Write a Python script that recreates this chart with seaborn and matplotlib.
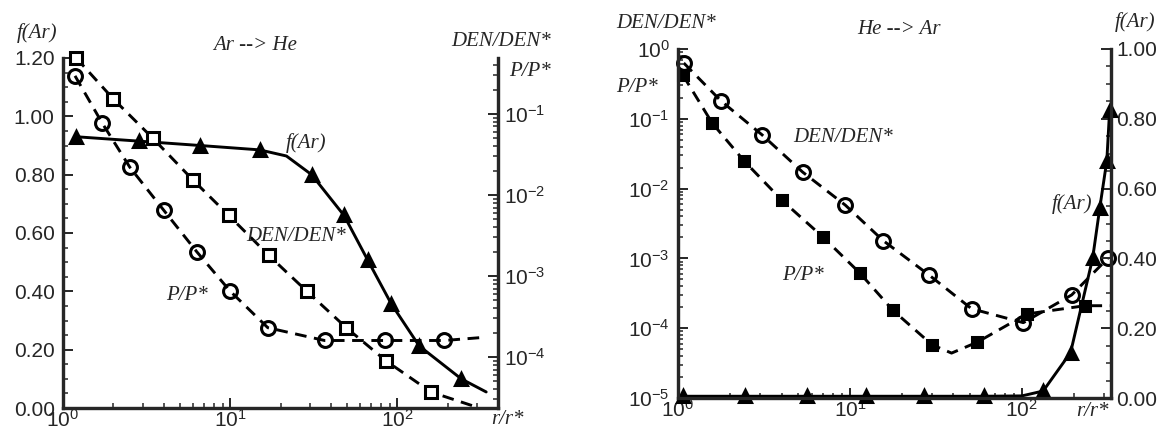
import matplotlib
matplotlib.use('Agg')
import matplotlib.pyplot as plt
import matplotlib.ticker as mticker
import seaborn as sns

# ---- left panel: Ar --> He ----
ah_far_x = [1.2, 2.84, 6.6, 15, 21.7, 30.7, 48, 66.5, 92, 135, 241, 340]
ah_far_y = [0.93, 0.915, 0.90, 0.885, 0.864, 0.80, 0.66, 0.507, 0.357, 0.213, 0.10, 0.055]
ah_den_x = [1.2, 2.0, 3.45, 5.97, 9.8, 17, 28.7, 49.5, 86, 159, 300]
ah_den_y = [0.49, 0.153, 0.05, 0.0154, 0.0056, 0.0018, 6.5e-4, 2.3e-4, 8.9e-5, 3.7e-5, 2.4e-5]
ah_p_x = [1.18, 1.71, 2.51, 4.0, 6.3, 10, 16.8, 36.7, 84, 191, 330]
ah_p_y = [0.295, 0.078, 0.022, 0.0065, 0.002, 6.5e-4, 2.3e-4, 1.6e-4, 1.6e-4, 1.6e-4, 1.75e-4]

# ---- right panel: He --> Ar ----
ha_den_x = [1.08, 1.78, 3.08, 5.3, 9.4, 15.6, 28.8, 51, 102, 195, 316]
ha_den_y = [0.63, 0.18, 0.059, 0.0173, 0.0058, 0.0018, 5.8e-4, 1.9e-4, 1.2e-4, 3.0e-4, 1.0e-3]
ha_p_x = [1.07, 1.58, 2.42, 4.0, 7.0, 11.4, 17.8, 30, 39, 55, 107, 233, 325]
ha_p_y = [0.42, 0.087, 0.025, 0.0069, 0.002, 6.2e-4, 1.8e-4, 5.8e-5, 4.4e-5, 6.3e-5, 1.6e-4, 2.1e-4, 2.1e-4]
ha_far_x = [1.07, 2.45, 5.6, 12.4, 27, 60, 100, 133, 192, 258, 284, 312, 324]
ha_far_y = [0.005, 0.005, 0.005, 0.005, 0.005, 0.005, 0.006, 0.02, 0.13, 0.40, 0.545, 0.68, 0.825]

sns.set_style('ticks')
plt.rcParams['font.family'] = ['Liberation Sans', 'DejaVu Sans']
plt.rcParams['xtick.direction'] = 'in'
plt.rcParams['ytick.direction'] = 'in'

W, H = 1167, 429
fig = plt.figure(figsize=(W / 100, H / 100), dpi=100)

DASH = (0, (4, 2.6))


def curve(ax, x, y, marker, ls, mark, fill='k', ms=9):
    sns.lineplot(x=x, y=y, ax=ax, color='k', linestyle=ls, linewidth=2.1,
                 marker=marker, markevery=mark, markersize=ms,
                 markerfacecolor=fill, markeredgecolor='k', markeredgewidth=2.2,
                 errorbar=None, clip_on=False)


def style(ax):
    for s in ax.spines.values():
        s.set_linewidth(2.3)
    ax.spines['top'].set_visible(False)
    ax.tick_params(which='major', length=7, width=1.4, labelsize=15)
    ax.tick_params(which='minor', length=3.5, width=1.1)
    ax.set_xlabel('')
    ax.set_ylabel('')


def ftext(px, py, s, **kw):
    fig.text(px / W, 1 - py / H, s, ha='center', va='center', fontsize=15,
             family='Liberation Serif', style='italic', **kw)


# left panel
ax1 = fig.add_axes([63 / W, 1 - 408 / H, 435 / W, 350 / H])
ax1.set_xscale('log')
ax1.set_xlim(1, 400)
ax1.set_ylim(0, 1.2)
ax1b = ax1.twinx()
ax1b.set_yscale('log')
ax1b.set_ylim(2.35e-5, 0.49)

curve(ax1, ah_far_x, ah_far_y, '^', '-', [0, 1, 2, 3, 5, 6, 7, 8, 9, 10], ms=8)
curve(ax1b, ah_den_x, ah_den_y, 's', DASH, list(range(10)), fill='white', ms=8.5)
curve(ax1b, ah_p_x, ah_p_y, 'o', DASH, list(range(10)), fill='none', ms=10)

ax1.yaxis.set_major_locator(mticker.MultipleLocator(0.2))
ax1.yaxis.set_minor_locator(mticker.MultipleLocator(0.05))
ax1.yaxis.set_major_formatter(mticker.FormatStrFormatter('%.2f'))
for a in (ax1, ax1b):
    style(a)
ax1.tick_params(axis='y', pad=6)
ax1.tick_params(axis='x', pad=0.5)
ax1b.tick_params(axis='y', pad=4)

# right panel
ax2 = fig.add_axes([678 / W, 1 - 398 / H, 433 / W, 349 / H])
ax2.set_xscale('log')
ax2.set_yscale('log')
ax2.set_xlim(1, 330)
ax2.set_ylim(1e-5, 1)
ax2b = ax2.twinx()
ax2b.set_ylim(0, 1)

curve(ax2, ha_den_x, ha_den_y, 'o', DASH, list(range(11)), fill='none', ms=10)
curve(ax2, ha_p_x, ha_p_y, 's', DASH, [0, 1, 2, 3, 4, 5, 6, 7, 9, 10, 11], ms=7.5)
curve(ax2b, ha_far_x, ha_far_y, '^', '-', [0, 1, 2, 3, 4, 5, 7, 8, 9, 10, 11, 12], ms=8)

ax2b.yaxis.set_major_locator(mticker.MultipleLocator(0.2))
ax2b.yaxis.set_minor_locator(mticker.MultipleLocator(0.05))
ax2b.yaxis.set_major_formatter(mticker.FormatStrFormatter('%.2f'))
ax2.yaxis.set_minor_locator(mticker.LogLocator(subs=range(2, 10), numticks=20))
ax2.yaxis.set_minor_formatter(mticker.NullFormatter())
for a in (ax2, ax2b):
    style(a)
ax2.tick_params(axis='y', pad=6)
ax2.tick_params(axis='x', pad=0.5)
ax2b.tick_params(axis='y', pad=4)

# annotations, left panel
ftext(37, 33, 'f(Ar)')
ftext(255, 46, 'Ar --> He')
ftext(501, 41, 'DEN/DEN*')
ftext(530, 72, 'P/P*')
ftext(306, 143, 'f(Ar)')
ftext(296, 237, 'DEN/DEN*')
ftext(187, 295, 'P/P*')
ftext(507, 420, 'r/r*')

# annotations, right panel
ftext(666, 24, 'DEN/DEN*')
ftext(899, 29, 'He --> Ar')
ftext(637, 87, 'P/P*')
ftext(1135, 22, 'f(Ar)')
ftext(843, 138, 'DEN/DEN*')
ftext(803, 275, 'P/P*')
ftext(1072, 204, 'f(Ar)')
ftext(1092, 411, 'r/r*')

fig.savefig('out.png', dpi=100)
